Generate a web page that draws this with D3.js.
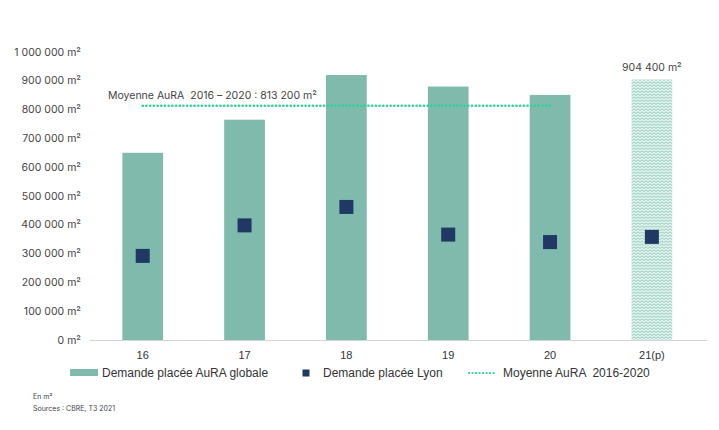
<!DOCTYPE html>
<html><head><meta charset="utf-8">
<script src="https://cdn.jsdelivr.net/npm/d3@7"></script>
<style>body{margin:0;background:#fff;} svg{display:block;} text{white-space:pre;}</style>
</head><body>
<svg id="chart" width="719" height="430"></svg>
<script>
const categories = ["16", "17", "18", "19", "20", "21(p)"];
const aura = [650000, 765000, 920000, 880000, 851000, 904400];
const lyon = [292000, 398000, 462000, 366000, 340000, 358000];
const forecast = [false, false, false, false, false, true];
const averageValue = 813200;
const averageLabel = "Moyenne AuRA  2016 – 2020 : 813 200 m²";
const yTicks = [0,100000,200000,300000,400000,500000,600000,700000,800000,900000,1000000];
const legendLabels = ["Demande placée AuRA globale", "Demande placée Lyon", "Moyenne AuRA  2016-2020"];

const svg = d3.select("#chart");
const geo = "Inter, 'Open Sans', sans-serif";
const arial = "'Liberation Sans', Arial, sans-serif";
const barColor = "#7fbaad", navy = "#1f3864", dotColor = "#2ed39c";

const x = d3.scaleBand().domain(categories).range([91.8, 702.8]).paddingInner(0.6).paddingOuter(0.3);
const y = d3.scaleLinear().domain([0, 1000000]).range([340, 52]);

// pattern for forecast bar
const defs = svg.append("defs");
const pat = defs.append("pattern").attr("id","wave").attr("patternUnits","userSpaceOnUse")
  .attr("width",4).attr("height",3);
pat.append("rect").attr("width",4).attr("height",3).attr("fill","#e4f3ef");
pat.append("path").attr("d","M0,2.5 L2,0.8 L4,2.5").attr("fill","none").attr("stroke","#86c6b6").attr("stroke-width",0.9);

// y axis labels
const fmt = v => d3.format(",")(v).replace(/,/g, " ") + " m²";
svg.append("g").selectAll("text").data(yTicks).join("text")
  .attr("x", 81).attr("y", d => y(d)).attr("dy","0.35em").attr("text-anchor","end")
  .attr("font-family", geo).attr("font-size", 10.5).attr("fill","#444")
  .text(fmt);

// x axis line
svg.append("line").attr("x1",90).attr("x2",707).attr("y1",340.5).attr("y2",340.5)
  .attr("stroke","#d4d4d4").attr("stroke-width",1);

// bars
svg.append("g").selectAll("rect").data(categories).join("rect")
  .attr("x", d => x(d)).attr("width", x.bandwidth())
  .attr("y", (d,i) => y(aura[i])).attr("height", (d,i) => y(0) - y(aura[i]))
  .attr("fill", (d,i) => forecast[i] ? "url(#wave)" : barColor);

// forecast label
categories.forEach((c,i) => {
  if (forecast[i]) {
    svg.append("text").attr("x", x(c) + x.bandwidth()/2).attr("y", y(aura[i]) - 9)
      .attr("text-anchor","middle").attr("font-family", geo).attr("font-size", 10.5)
      .attr("fill","#444").text(fmt(aura[i]));
  }
});

// average dotted line
const avgStart = x(categories[0]) + x.bandwidth()/2;
const avgEnd = x(categories[4]) + x.bandwidth()/2 + 2;
svg.append("line").attr("x1", avgStart).attr("x2", avgEnd)
  .attr("y1", y(averageValue)).attr("y2", y(averageValue))
  .attr("stroke", dotColor).attr("stroke-width", 2.6).attr("stroke-linecap","round")
  .attr("stroke-dasharray","0.1,3.6");
svg.append("text").attr("x", 108).attr("y", y(averageValue) - 10).attr("dy","0.35em")
  .attr("font-family", geo).attr("font-size", 10.5).attr("fill","#444").text(averageLabel);

// Lyon squares
const sq = 14;
svg.append("g").selectAll("rect").data(categories).join("rect")
  .attr("x", d => x(d) + x.bandwidth()/2 - sq/2).attr("width", sq)
  .attr("y", (d,i) => y(lyon[i]) - sq/2).attr("height", sq)
  .attr("fill", navy);

// x labels
svg.append("g").selectAll("text").data(categories).join("text")
  .attr("x", d => x(d) + x.bandwidth()/2).attr("y", 355).attr("dy","0.35em")
  .attr("text-anchor","middle").attr("font-family", arial).attr("font-size", 11).attr("fill","#333")
  .text(d => d);

// legend
const ly = 373;
svg.append("rect").attr("x",70).attr("y",369).attr("width",28).attr("height",7).attr("fill",barColor);
svg.append("text").attr("x",102).attr("y",ly).attr("dy","0.35em").attr("font-family",arial)
  .attr("font-size",12).attr("fill","#333").text(legendLabels[0]);
svg.append("rect").attr("x",302.5).attr("y",369.5).attr("width",7).attr("height",7).attr("fill",navy);
svg.append("text").attr("x",323).attr("y",ly).attr("dy","0.35em").attr("font-family",arial)
  .attr("font-size",12).attr("fill","#333").text(legendLabels[1]);
svg.append("line").attr("x1",469).attr("x2",496).attr("y1",373).attr("y2",373)
  .attr("stroke",dotColor).attr("stroke-width",2.2).attr("stroke-linecap","round").attr("stroke-dasharray","0.1,3.4");
svg.append("text").attr("x",503).attr("y",ly).attr("dy","0.35em").attr("font-family",arial)
  .attr("font-size",12).attr("fill","#333").text(legendLabels[2]);

// footer
svg.append("text").attr("x",33).attr("y",399).attr("font-family",geo).attr("font-size",7).attr("fill","#444").text("En m²");
svg.append("text").attr("x",33).attr("y",411).attr("font-family",geo).attr("font-size",7).attr("fill","#444").text("Sources : CBRE, T3 2021");
</script>
</body></html>
